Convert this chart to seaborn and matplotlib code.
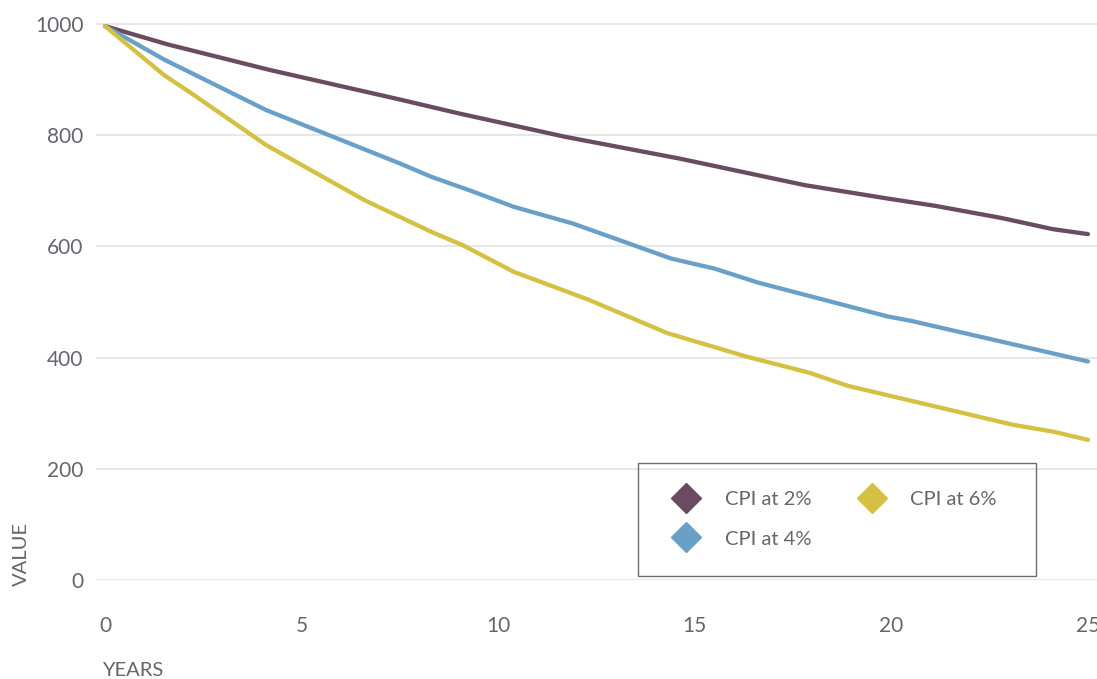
import matplotlib
matplotlib.use("Agg")
import matplotlib.pyplot as plt
from matplotlib.lines import Line2D
from matplotlib.patches import Rectangle
import pandas as pd
import seaborn as sns

# values (years, value of 1000 after inflation)
years_2 = [0, 1.6, 4.2, 7.5, 9.0, 11.7, 14.6, 17.8, 19.9, 21.1, 22.8, 24.1, 25]
cpi_2 = [996, 963, 917, 864, 839, 797, 758, 710, 686, 673, 651, 631, 622]

years_4 = [0, 1.5, 4.1, 7.5, 8.3, 9.3, 10.4, 11.9, 14.4, 15.5, 16.6, 19.9, 20.5, 25]
cpi_4 = [996, 936, 845, 749, 725, 700, 671, 641, 578, 560, 535, 474, 466, 393]

years_6 = [0, 1.5, 2.2, 4.1, 6.6, 8.3, 9.1, 10.4, 12.3, 14.3, 16.3, 17.9, 18.9, 23.1, 24.1, 25]
cpi_6 = [996, 908, 875, 782, 683, 626, 602, 554, 504, 444, 402, 373, 349, 279, 267, 252]

series_names = ["CPI at 2%", "CPI at 4%", "CPI at 6%"]
colors = ["#694c5f", "#6aa0c7", "#d4c042"]

y_ticks = [0, 200, 400, 600, 800, 1000]
x_ticks = [0, 5, 10, 15, 20, 25]

W, H = 1097, 679


def main():
    frames = []
    for name, xs, ys in zip(series_names, [years_2, years_4, years_6], [cpi_2, cpi_4, cpi_6]):
        frames.append(pd.DataFrame({"year": xs, "value": ys, "series": name}))
    df = pd.concat(frames, ignore_index=True)

    sns.set_theme(style="white")
    plt.rcParams["font.family"] = ["Lato", "DejaVu Sans"]
    text_col = "#63666c"

    fig = plt.figure(figsize=(W / 100, H / 100), dpi=100)
    ax = fig.add_axes([96 / W, 1 - 580 / H, 1 - 96 / W, 565 / H])

    sns.lineplot(data=df, x="year", y="value", hue="series", hue_order=series_names,
                 palette=colors, linewidth=3.1, legend=False, ax=ax,
                 solid_capstyle="round", sort=True)

    ax.set_xlim(-0.23, 25.23)
    ax.set_ylim(0, 1016)
    ax.set_xticks(x_ticks)
    ax.set_yticks(y_ticks)
    ax.grid(axis="y", color="#e3e3e3", linewidth=1.2)
    ax.grid(axis="x", visible=False)
    ax.set_axisbelow(True)
    for s in ax.spines.values():
        s.set_visible(False)
    ax.tick_params(axis="both", length=0, labelsize=15, labelcolor=text_col)
    ax.tick_params(axis="x", pad=26)
    ax.tick_params(axis="y", pad=9)
    ax.set_xlabel("")
    ax.set_ylabel("")

    fig.text(102 / W, 1 - 670 / H, "YEARS", ha="left", va="center",
             fontsize=14.5, color=text_col)
    fig.text(21 / W, 1 - 586 / H, "VALUE", ha="center", va="bottom",
             rotation=90, fontsize=14.5, color=text_col)

    # legend box drawn separately so its size matches the reference
    fig.add_artist(Rectangle((638 / W, 1 - 576 / H), 398 / W, 113 / H,
                             transform=fig.transFigure, fill=False,
                             edgecolor="#6b6e73", linewidth=1.0))

    handles = [Line2D([], [], marker="D", linestyle="none", markersize=15,
                      markerfacecolor=c, markeredgecolor=c) for c in colors]
    ax.legend(handles, series_names, ncol=2, loc="upper left",
              bbox_to_anchor=(638 / W, 1 - 463 / H), bbox_transform=fig.transFigure,
              frameon=False, fontsize=14.5, labelcolor=text_col,
              borderpad=1.4, labelspacing=1.1, handlelength=2.0,
              handletextpad=0.9, columnspacing=2.0, borderaxespad=0)

    fig.savefig("out.png", dpi=100)
    plt.close(fig)


if __name__ == "__main__":
    main()
